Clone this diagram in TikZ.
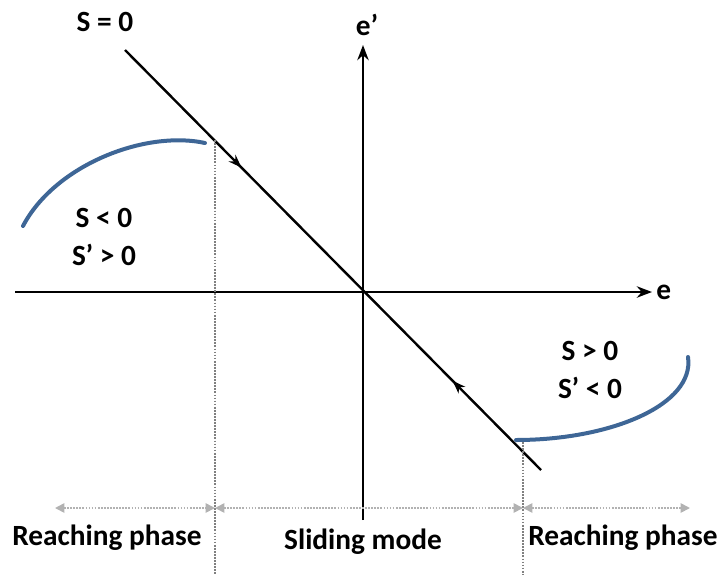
\documentclass[tikz,border=0pt]{standalone}
\usepackage{fontspec}
\setmainfont{Carlito}
\usetikzlibrary{positioning, arrows.meta, decorations.markings}
\definecolor{curveblue}{RGB}{62,102,150}
\tikzset{
  lbl/.style={font=\bfseries\fontsize{22}{26}\selectfont, inner sep=1pt},
  axis/.style={-{Stealth[length=4mm,width=3mm]}, line width=1.8pt},
  surf/.style={line width=1.8pt, postaction={decorate},
               decoration={markings,
                 mark=at position 0.28 with {\arrow{Stealth[length=3.5mm,width=2.5mm]}},
                 mark=at position 0.81 with {\arrow{Stealth[length=3.5mm,width=2.5mm,reversed]}}}},
  guide/.style={densely dotted, gray, line width=1.3pt},
  span/.style={{Triangle[length=2.5mm,width=2.5mm]}-{Triangle[length=2.5mm,width=2.5mm]},
               densely dotted, gray!60, line width=1.3pt},
  reach/.style={curveblue, line width=3pt, line cap=round},
}
\begin{document}
\begin{tikzpicture}[x=0.75pt, y=-0.75pt]
  \useasboundingbox (0,0) rectangle (717,575);
  % axes
  \coordinate (ew) at (15,292);
  \coordinate (ee) at (652,292);
  \coordinate (es) at (363,520);
  \coordinate (en) at (363,45);
  \draw[axis] (ew) -- (ee);
  \draw[axis] (es) -- (en);
  \node[lbl, right=2pt of ee](elab){e};
  \node[lbl, above=6pt of en, xshift=3pt](edlab){e'};
  % sliding surface
  \coordinate (sa) at (125,50);
  \coordinate (sb) at (541,470);
  \draw[surf] (sa) -- (sb);
  \node[lbl](slab) at (105,22){S = 0};
  % region texts
  \node[lbl, align=center](ql) at (104,237){S < 0\\[2pt]S’ > 0};
  \node[lbl, align=center](qr) at (590,370){S > 0\\[2pt]S’ < 0};
  % phase boundaries
  \coordinate (ga) at (215,140);
  \coordinate (gb) at (215,575);
  \coordinate (gc) at (523,442);
  \coordinate (gd) at (523,575);
  \draw[guide] (ga) -- (gb);
  \draw[guide] (gc) -- (gd);
  \coordinate (pa) at (55,508);
  \coordinate (pb) at (215,508);
  \coordinate (pc) at (523,508);
  \coordinate (pd) at (690,508);
  \draw[span] (pa) -- (pb);
  \draw[span] (pb) -- (pc);
  \draw[span] (pc) -- (pd);
  \node[lbl](rl) at (107,538){Reaching phase};
  \node[lbl](sm) at (363,542){Sliding mode};
  \node[lbl](rr) at (623,538){Reaching phase};
  % reaching trajectories
  \coordinate (ca) at (23,226);
  \coordinate (cb) at (205,143);
  \coordinate (cc) at (688,357);
  \coordinate (cd) at (516,440);
  \draw[reach] (ca) .. controls (55,165) and (145,130) .. (cb);
  \draw[reach] (cc) .. controls (695,405) and (610,440) .. (cd);
\end{tikzpicture}
\end{document}
